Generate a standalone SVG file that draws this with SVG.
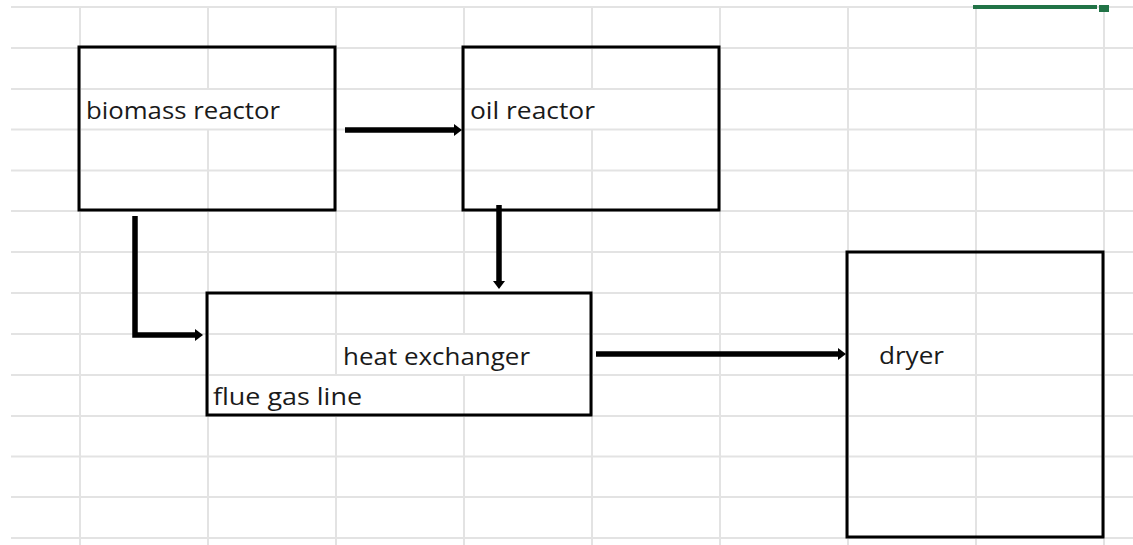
<svg xmlns="http://www.w3.org/2000/svg" width="1133" height="545" viewBox="0 0 1133 545">
<style>
.grid line{stroke:#e3e3e3;stroke-width:2}
.box{fill:none;stroke:#000;stroke-width:3}
.lbl{font-family:"Open Sans","Liberation Sans",sans-serif;font-size:24px;fill:#1a1a1a}
.conn{fill:none;stroke:#000;stroke-width:5.5;stroke-linejoin:miter}
</style>
<defs>
<marker id="ah" markerUnits="userSpaceOnUse" markerWidth="12" markerHeight="14" viewBox="0 0 12 14" refX="2" refY="7" orient="auto">
<path d="M0,1 L8,7 L0,13 Z" fill="#000"/>
</marker>
</defs>
<rect width="1133" height="545" fill="#fff"/>
<g class="grid">
<line x1="11" y1="7" x2="1133" y2="7"/>
<line x1="11" y1="48" x2="1133" y2="48"/>
<line x1="11" y1="89" x2="1133" y2="89"/>
<line x1="11" y1="129.5" x2="1133" y2="129.5"/>
<line x1="11" y1="170.5" x2="1133" y2="170.5"/>
<line x1="11" y1="211" x2="1133" y2="211"/>
<line x1="11" y1="252" x2="1133" y2="252"/>
<line x1="11" y1="293" x2="1133" y2="293"/>
<line x1="11" y1="334" x2="1133" y2="334"/>
<line x1="11" y1="375" x2="1133" y2="375"/>
<line x1="11" y1="416" x2="1133" y2="416"/>
<line x1="11" y1="456.5" x2="1133" y2="456.5"/>
<line x1="11" y1="497" x2="1133" y2="497"/>
<line x1="11" y1="538" x2="1133" y2="538"/>
<line x1="80" y1="7" x2="80" y2="545"/>
<line x1="208" y1="7" x2="208" y2="89"/>
<line x1="208" y1="129.5" x2="208" y2="545"/>
<line x1="336" y1="7" x2="336" y2="375"/>
<line x1="336" y1="416" x2="336" y2="545"/>
<line x1="464" y1="7" x2="464" y2="334"/>
<line x1="464" y1="375" x2="464" y2="545"/>
<line x1="592" y1="7" x2="592" y2="89"/>
<line x1="592" y1="129.5" x2="592" y2="545"/>
<line x1="720" y1="7" x2="720" y2="545"/>
<line x1="848" y1="7" x2="848" y2="545"/>
<line x1="976" y1="7" x2="976" y2="545"/>
<line x1="1104" y1="7" x2="1104" y2="545"/>
</g>
<g id="selection">
<rect x="973" y="5" width="124" height="4" fill="#217346"/>
<rect x="1099" y="5" width="10" height="7" fill="#217346"/>
</g>
<g id="biomass-reactor">
<rect class="box" x="79" y="47" width="256" height="163"/>
<text class="lbl" x="86" y="119" textLength="194" lengthAdjust="spacingAndGlyphs">biomass reactor</text>
</g>
<g id="oil-reactor">
<rect class="box" x="463" y="47" width="256" height="163"/>
<text class="lbl" x="470" y="119" textLength="125" lengthAdjust="spacingAndGlyphs">oil reactor</text>
</g>
<g id="heat-exchanger">
<rect class="box" x="207" y="293" width="384" height="122"/>
<text class="lbl" x="343" y="365" textLength="187" lengthAdjust="spacingAndGlyphs">heat exchanger</text>
<text class="lbl" x="213" y="405" textLength="149" lengthAdjust="spacingAndGlyphs">flue gas line</text>
</g>
<g id="dryer">
<rect class="box" x="847" y="252" width="256" height="285"/>
<text class="lbl" x="879" y="364" textLength="65" lengthAdjust="spacingAndGlyphs">dryer</text>
</g>
<g id="connectors">
<path class="conn" d="M345,130 H456" marker-end="url(#ah)"/>
<path class="conn" d="M499,205 V283" marker-end="url(#ah)"/>
<path class="conn" d="M135,216 V335 H197" marker-end="url(#ah)"/>
<path class="conn" d="M596,354 H840" marker-end="url(#ah)"/>
</g>
</svg>
